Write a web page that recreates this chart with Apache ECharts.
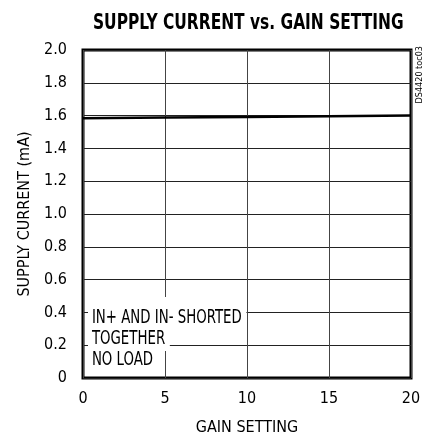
<!DOCTYPE html>
<html>
<head>
<meta charset="utf-8">
<script src="https://cdn.jsdelivr.net/npm/echarts@6/dist/echarts.min.js"></script>
<style>
  html, body { margin: 0; padding: 0; background: #fff; }
  #chart { width: 427px; height: 436px; }
</style>
</head>
<body>
<div id="chart"></div>
<script>
var gainSetting = [0, 5, 10, 15, 20];
var supplyCurrent = [1.584, 1.588, 1.592, 1.596, 1.600];
var noteLines = ['IN+ AND IN- SHORTED', 'TOGETHER', 'NO LOAD'];

var FONT = "'DejaVu Sans Condensed', 'Liberation Sans Narrow', 'Liberation Sans', sans-serif";

var myChart = echarts.init(document.getElementById('chart'));

// notes drawn with a white box behind, so the grid is hidden under them
var noteText = noteLines.map(function (t, i) {
  var padTop = i === 0 ? 12 : 2;
  return {
    type: 'text',
    left: 88,
    top: 307 + i * 21 - (padTop - 2),
    z: 100,
    scaleX: 0.78,
    style: {
      text: t,
      fill: '#000',
      font: '19px ' + FONT,
      backgroundColor: '#fff',
      padding: [padTop, 6, 2, 5]
    }
  };
});

var option = {
  animation: false,
  backgroundColor: '#fff',
  grid: {
    left: 83, right: 16, top: 50, bottom: 58,
    outerBoundsMode: 'none',
    show: true, borderColor: '#000', borderWidth: 3
  },
  xAxis: {
    type: 'value',
    min: 0, max: 20, interval: 5,
    name: 'GAIN SETTING',
    nameLocation: 'middle',
    nameGap: 42,
    nameTextStyle: { fontFamily: FONT, fontSize: 16, color: '#000' },
    axisLine: { show: false },
    axisTick: { show: false },
    axisLabel: { fontFamily: FONT, fontSize: 16, color: '#000', margin: 13 },
    splitLine: { show: true, lineStyle: { color: '#444', width: 1 } }
  },
  yAxis: {
    type: 'value',
    min: 0, max: 2, interval: 0.2,
    name: 'SUPPLY CURRENT (mA)',
    nameLocation: 'middle',
    nameGap: 50,
    nameTextStyle: { fontFamily: FONT, fontSize: 16, color: '#000' },
    axisLine: { show: false },
    axisTick: { show: false },
    axisLabel: {
      fontFamily: FONT, fontSize: 16, color: '#000', margin: 16,
      formatter: function (v) { return v === 0 ? '0' : v.toFixed(1); }
    },
    splitLine: { show: true, lineStyle: { color: '#222', width: 1 } }
  },
  series: [{
    type: 'line',
    data: gainSetting.map(function (g, i) { return [g, supplyCurrent[i]]; }),
    showSymbol: false,
    lineStyle: { color: '#000', width: 2.5 },
    z: 5
  }],
  graphic: noteText.concat([{
    type: 'text',
    left: 93,
    top: 12,
    scaleX: 0.78,
    z: 100,
    style: {
      text: 'SUPPLY CURRENT vs. GAIN SETTING',
      fill: '#000',
      font: 'bold 22px ' + FONT
    }
  }, {
    type: 'text',
    left: 415,
    top: 46,
    rotation: Math.PI / 2,
    z: 100,
    style: {
      text: 'DS4420 toc03',
      fill: '#000',
      font: '9px ' + FONT
    }
  }])
};

myChart.setOption(option);
</script>
</body>
</html>
